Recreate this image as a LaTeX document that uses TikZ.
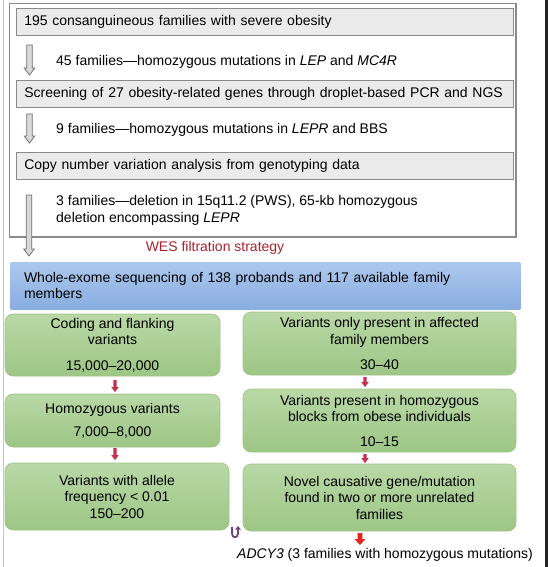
\documentclass[tikz,border=0pt]{standalone}
\usepackage{fontspec}
\setmainfont{Liberation Sans}
\usetikzlibrary{calc,arrows.meta}
\definecolor{boxgrey}{HTML}{EBEBEB}
\definecolor{linegrey}{HTML}{8A8A8A}
\definecolor{bluetop}{HTML}{ADC8EE}
\definecolor{bluebot}{HTML}{88ADDF}
\definecolor{greentop}{HTML}{B9D8A6}
\definecolor{greenbot}{HTML}{9DC685}
\definecolor{greenline}{HTML}{9FC489}
\definecolor{wesred}{HTML}{A62630}
\definecolor{smallred}{HTML}{C5304E}
\definecolor{bigred}{HTML}{E5231F}
\definecolor{upurple}{HTML}{74407A}
\definecolor{hollowfill}{HTML}{D9D9D9}
\definecolor{hollowline}{HTML}{707070}

\newcommand{\blockarr}[6]{%
  \draw[#1] let \p1=(#2), \p2=(#3) in
    (\x1-#4,\y1) -- (\x1+#4,\y1) -- (\x1+#4,\y2+#6) -- (\x1+#5,\y2+#6)
    -- (\x1,\y2) -- (\x1-#5,\y2+#6) -- (\x1-#4,\y2+#6) -- cycle;}

\tikzset{
  basefont/.style={font=\fontsize{14}{16.5}\selectfont, inner sep=0pt},
  greybox/.style={basefont, draw=linegrey, line width=0.9pt, fill=boxgrey,
    minimum height=27pt, text width=481.4pt, inner xsep=7.8pt, align=left, anchor=north west},
  outerframe/.style={draw=linegrey, line width=1.1pt, fill=white, inner sep=0pt},
  blueband/.style={basefont, top color=bluetop, bottom color=bluebot, draw=none,
    inner xsep=13.3pt, text width=483pt, minimum height=47pt, align=left, anchor=north west},
  greenbox/.style={basefont, rounded corners=8pt, top color=greentop, bottom color=greenbot,
    draw=greenline, line width=0.6pt, align=center},
  txt/.style={basefont, align=left, anchor=west},
  hollow/.style={draw=hollowline, fill=hollowfill, line width=0.8pt},
  smallarr/.style={fill=smallred, draw=none},
  bigarr/.style={fill=bigred, draw=none},
  uturn/.style={draw=upurple, line width=1.8pt, -{Triangle[length=3.5pt,width=5.5pt]}},
}

\begin{document}
\begin{tikzpicture}[x=1pt, y=-1pt]
\useasboundingbox (0,0) rectangle (548,567);
\fill[white] (0,0) rectangle (548,567);
\draw[gray!45, line width=0.8pt] (3.5,0) -- (3.5,567);
\fill[black!85] (545.3,0) rectangle (548,567);

% top framed section
\node[outerframe, minimum width=506.6pt, minimum height=233.5pt] (frame) at (262.7,120.25) {};
\node[greybox] (b1) at (16,8) {195 consanguineous families with severe obesity};
\node[greybox] (b2) at (16,80) {Screening of 27 obesity-related genes through droplet-based PCR and NGS};
\node[greybox] (b3) at (16,152) {Copy number variation analysis from genotyping data};

\node[txt] (t45) at (56,62) {45 families—homozygous mutations in \textit{LEP} and \textit{MC4R}};
\node[txt] (t9) at (56,130) {9 families—homozygous mutations in \textit{LEPR} and BBS};
\node[txt] (t3) at (56,210.5) {3 families—deletion in 15q11.2 (PWS), 65-kb homozygous\\deletion encompassing \textit{LEPR}};

\coordinate (a1s) at (29.5,45);  \coordinate (a1e) at (29.5,75);
\coordinate (a2s) at (29.5,114); \coordinate (a2e) at (29.5,143);
\coordinate (a3s) at (29,195);   \coordinate (a3e) at (29,256);
\blockarr{hollow}{a1s}{a1e}{2.8pt}{5.3pt}{7pt}
\blockarr{hollow}{a2s}{a2e}{2.8pt}{5.3pt}{7pt}
\blockarr{hollow}{a3s}{a3e}{2.8pt}{5.3pt}{7pt}

\node[basefont, text=wesred] (wes) at (215,248) {WES filtration strategy};

\node[blueband] (wes1) at (10.5,262) {Whole-exome sequencing of 138 probands and 117 available family\\members};

% green boxes
\node[greenbox, minimum width=215pt, minimum height=62pt] (L1) at (112.5,345)
  {Coding and flanking\\variants\\[9pt]15,000–20,000};
\node[greenbox, minimum width=215pt, minimum height=53pt] (L2) at (112.5,420.5)
  {Homozygous variants\\[6.5pt]7,000–8,000};
\node[greenbox, minimum width=224pt, minimum height=67pt] (L3) at (117,496.5)
  {Variants with allele\\frequency < 0.01\\150–200};
\node[greenbox, minimum width=273pt, minimum height=63pt] (R1) at (379.5,343.5)
  {Variants only present in affected\\family members\\[8.5pt]30–40};
\node[greenbox, minimum width=273pt, minimum height=63pt] (R2) at (379.5,420.5)
  {Variants present in homozygous\\blocks from obese individuals\\[8pt]10–15};
\node[greenbox, minimum width=273pt, minimum height=67pt] (R3) at (379.5,497.5)
  {Novel causative gene/mutation\\found in two or more unrelated\\families};

\node[basefont] (adcy) at (385,555) {\textit{ADCY3} (3 families with homozygous mutations)};

% small red arrows
\coordinate (l1s) at (115,380); \coordinate (l1e) at (115,392);
\coordinate (l2s) at (115,448); \coordinate (l2e) at (115,460);
\coordinate (r1s) at (365,377); \coordinate (r1e) at (365,387);
\coordinate (r2s) at (365,454); \coordinate (r2e) at (365,463);
\blockarr{smallarr}{l1s}{l1e}{1.6pt}{3.8pt}{5pt}
\blockarr{smallarr}{l2s}{l2e}{1.6pt}{3.8pt}{5pt}
\blockarr{smallarr}{r1s}{r1e}{1.6pt}{3.8pt}{5pt}
\blockarr{smallarr}{r2s}{r2e}{1.6pt}{3.8pt}{5pt}
\coordinate (bs) at (360,533); \coordinate (be) at (360,545);
\blockarr{bigarr}{bs}{be}{2.3pt}{5.5pt}{6pt}

% purple u-turn arrow
\coordinate (u1) at (232,527);
\draw[uturn] (u1) -- (232,533.5) .. controls (232,538.5) and (238,538.5) .. (238,533.5) -- (238,526);
\end{tikzpicture}
\end{document}
